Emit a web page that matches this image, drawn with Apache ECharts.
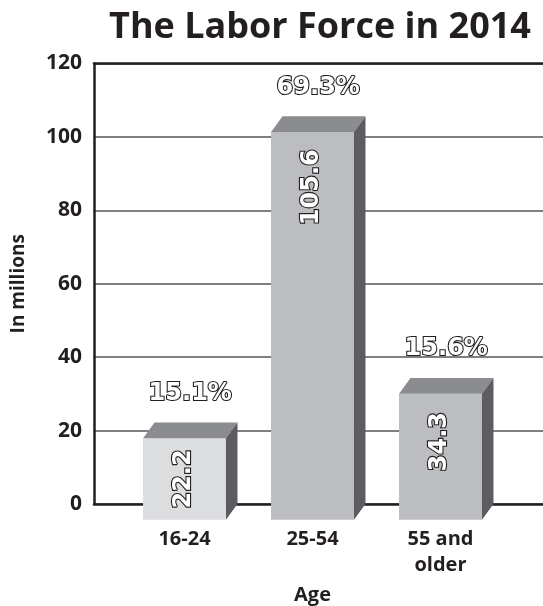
<!DOCTYPE html>
<html>
<head>
<meta charset="utf-8">
<script src="https://cdn.jsdelivr.net/npm/echarts@6/dist/echarts.min.js"></script>
<style>html,body{margin:0;padding:0;background:#fff;}#c{width:543px;height:606px;}</style>
</head>
<body>
<div id="c"></div>
<script>
var categories = ['16-24', '25-54', '55 and\nolder'];
var values = [22.2, 105.6, 34.3];
var shares = ['15.1%', '69.3%', '15.6%'];
var yTicks = [0, 20, 40, 60, 80, 100, 120];

var INK = '#231f20';
var frontColors = ['#dcdddf', '#bcbdc0', '#bcbdc0'];
var TOP = '#8b8c8f', SIDE = '#5c5d60';
var FONT = 'Open Sans';

var chart = echarts.init(document.getElementById('c'), null, {renderer: 'canvas'});

function renderItem(params, api) {
  var i = api.value(0), v = api.value(1);
  var base = api.coord([i, 0]);
  var top = api.coord([i, v]);
  var bw = api.size([1, 0])[0];
  var hw = bw * 0.324;
  var dx = 11.5, dy = 15.7;
  var cx = base[0];
  var fTop = top[1] + dy, fBot = base[1] + dy;
  var L = cx - hw, R = cx + hw;
  var valText = String(values[i]);
  var fs = 24;
  var len = valText.length * fs * 0.62;
  var textCy = Math.min(fTop + 18 + len / 2, (fTop + fBot) / 2);
  return {
    type: 'group',
    children: [
      {type: 'rect', shape: {x: L, y: fTop, width: R - L, height: fBot - fTop}, style: {fill: frontColors[i]}},
      {type: 'polygon', shape: {points: [[L, fTop], [R, fTop], [R + dx, top[1]], [L + dx, top[1]]]}, style: {fill: TOP}},
      {type: 'polygon', shape: {points: [[R, fTop], [R + dx, top[1]], [R + dx, base[1]], [R, fBot]]}, style: {fill: SIDE}},
      {type: 'text', x: cx - 1, y: textCy, rotation: Math.PI / 2,
        style: {text: valText, align: 'center', verticalAlign: 'middle', fill: '#fff', stroke: INK, lineWidth: 2.2, strokeFirst: true,
          font: 'bold ' + fs + 'px "DejaVu Sans"'}},
      {type: 'text', x: cx + dx / 2, y: top[1] - 29,
        style: {text: shares[i], align: 'center', verticalAlign: 'middle', fill: '#fff', stroke: INK, lineWidth: 2.2, strokeFirst: true,
          font: 'bold 24px "DejaVu Sans"'}}
    ]
  };
}

var option = {
  animation: false,
  title: {
    text: 'The Labor Force in 2014', left: 315, top: 5, textAlign: 'center',
    textStyle: {fontFamily: FONT, fontWeight: 'bold', fontSize: 36, color: INK}
  },
  grid: [
    {left: 94, right: 0, top: 63.5, bottom: 102, containLabel: false, outerBoundsMode: 'none'},
    {left: 120.5, right: 38.5, top: 63.5, bottom: 102, containLabel: false, outerBoundsMode: 'none'}
  ],
  xAxis: [
    {gridIndex: 0, type: 'category', data: categories, position: 'bottom',
      axisLine: {lineStyle: {color: INK, width: 2.5}}, axisTick: {show: false}, axisLabel: {show: false}},
    {gridIndex: 0, type: 'category', data: categories, position: 'top',
      axisLine: {lineStyle: {color: INK, width: 2.5}}, axisTick: {show: false}, axisLabel: {show: false}},
    {gridIndex: 1, type: 'category', data: categories,
      axisLine: {show: false}, axisTick: {show: false},
      axisLabel: {color: INK, fontFamily: FONT, fontWeight: 'bold', fontSize: 20, lineHeight: 26, margin: 22},
      name: 'Age', nameLocation: 'middle', nameGap: 81,
      nameTextStyle: {color: INK, fontFamily: FONT, fontWeight: 'bold', fontSize: 20}}
  ],
  yAxis: [
    {gridIndex: 0, type: 'value', min: yTicks[0], max: yTicks[yTicks.length - 1], interval: 20,
      axisLine: {show: true, lineStyle: {color: INK, width: 2.5}}, axisTick: {show: false},
      splitLine: {show: true, lineStyle: {color: '#555', width: 1.5}},
      axisLabel: {color: INK, fontFamily: FONT, fontWeight: 'bold', fontSize: 21, margin: 12},
      name: 'In millions', nameLocation: 'middle', nameRotate: 90, nameGap: 66,
      nameTextStyle: {color: INK, fontFamily: FONT, fontWeight: 'bold', fontSize: 19}},
    {gridIndex: 1, type: 'value', min: yTicks[0], max: yTicks[yTicks.length - 1], interval: 20, show: false}
  ],
  series: [{
    type: 'custom', xAxisIndex: 2, yAxisIndex: 1,
    renderItem: renderItem,
    data: values.map(function (v, i) { return [i, v]; }),
    z: 5
  }]
};
chart.setOption(option);
</script>
</body>
</html>
